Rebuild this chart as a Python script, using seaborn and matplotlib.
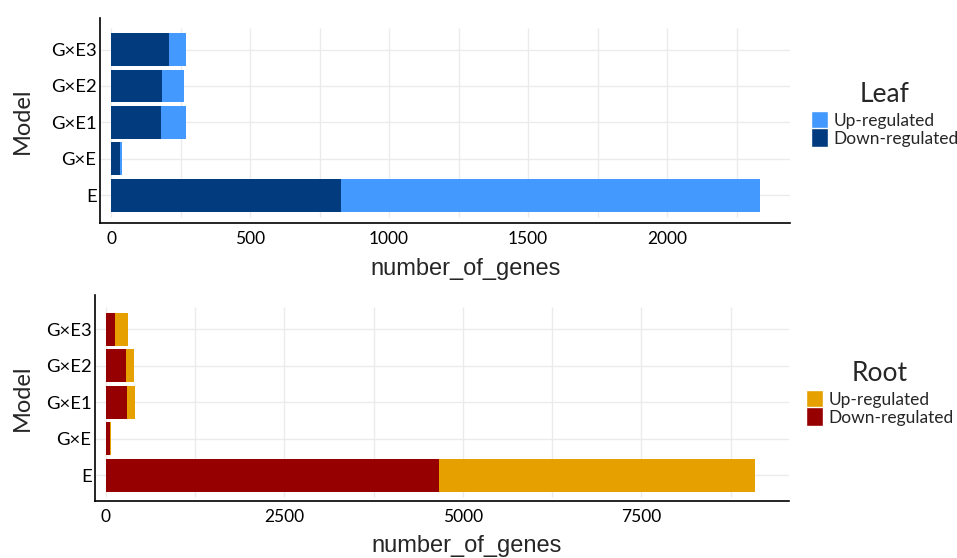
import matplotlib
matplotlib.use('Agg')
import matplotlib.pyplot as plt
from matplotlib.patches import Patch
import numpy as np
import pandas as pd
import seaborn as sns

# ---- Data ----
models = ['G×E3', 'G×E2', 'G×E1', 'G×E', 'E']
leaf_down = [209, 183, 180, 32, 827]
leaf_up = [61, 80, 90, 8, 1508]
root_down = [126, 280, 294, 56, 4670]
root_up = [182, 112, 112, 10, 4420]
legend_labels = ['Up-regulated', 'Down-regulated']

leaf_colors = {'up': '#4499ff', 'down': '#023c7e'}
root_colors = {'up': '#e6a000', 'down': '#960000'}

sns.set_style('white')
plt.rcParams['font.family'] = ['Lato', 'DejaVu Sans']

W, H = 957, 558
fig = plt.figure(figsize=(W / 100, H / 100), dpi=100)


def px_axes(left, right, top, bottom):
    return fig.add_axes([left / W, 1 - bottom / H, (right - left) / W, (bottom - top) / H])


def panel(ax, down, up, colors, xlim, ylim, major, minor_step, title, legend_xy, xlab_x, xlab_y, ylab_x):
    df = pd.DataFrame({'Model': models, 'down': down, 'up': up})
    df['total'] = df['down'] + df['up']
    sns.barplot(data=df, y='Model', x='total', order=models, color=colors['up'],
                width=0.9, saturation=1, linewidth=0, ax=ax, zorder=2)
    sns.barplot(data=df, y='Model', x='down', order=models, color=colors['down'],
                width=0.9, saturation=1, linewidth=0, ax=ax, zorder=3)
    ax.set_xlim(*xlim)
    ax.set_ylim(*ylim)

    # grid lines (ggplot-like, limited to the panel)
    for v in np.arange(0, xlim[1], minor_step):
        ax.vlines(v, -0.6, len(models) - 0.4, color='#ebebeb', lw=1.0, zorder=0)
    for i in range(len(models)):
        ax.hlines(i, xlim[0], xlim[1], color='#ebebeb', lw=1.0, zorder=0)

    ax.set_xticks(major)
    ax.set_xticklabels([str(m) for m in major])
    ax.tick_params(axis='both', length=0, colors='black')
    ax.tick_params(axis='x', pad=6, labelsize=12.5)
    ax.tick_params(axis='y', pad=2.5, labelsize=13.3)
    for s in ['top', 'right']:
        ax.spines[s].set_visible(False)
    for s in ['left', 'bottom']:
        ax.spines[s].set_color('black')
        ax.spines[s].set_linewidth(1.2)

    ax.set_xlabel('number_of_genes', fontsize=17, family='Liberation Sans')
    ax.xaxis.label.set_va('baseline')
    ax.xaxis.set_label_coords(xlab_x, xlab_y)
    ax.set_ylabel('Model', fontsize=17)
    ax.yaxis.label.set_va('center')
    ax.yaxis.set_label_coords(ylab_x, 0.5)

    handles = [Patch(facecolor=colors['up']), Patch(facecolor=colors['down'])]
    leg = fig.legend(handles, legend_labels, title=title, loc='upper left',
                     bbox_to_anchor=(legend_xy[0] / W, 1 - legend_xy[1] / H),
                     frameon=False, fontsize=12.5, title_fontsize=19,
                     handlelength=0.98, handleheight=1.3, handletextpad=0.3,
                     labelspacing=-0.1, borderpad=0, borderaxespad=0)
    leg._legend_box.align = 'center'
    leg._legend_box.sep = 3


# ---- Leaf panel ----
ax1 = px_axes(100, 790, 18, 223)
panel(ax1, leaf_down, leaf_up, leaf_colors,
      xlim=(-40, 2442), ylim=(4.76, -0.865),
      major=[0, 500, 1000, 1500, 2000], minor_step=250,
      title='Leaf', legend_xy=(811, 82),
      xlab_x=(466 - 100) / 690, xlab_y=(223 - 275) / 205, ylab_x=(22 - 100) / 690)

# ---- Root panel ----
ax2 = px_axes(95, 789, 295, 501)
panel(ax2, root_down, root_up, root_colors,
      xlim=(-154, 9566), ylim=(4.704, -0.937),
      major=[0, 2500, 5000, 7500], minor_step=1250,
      title='Root', legend_xy=(806, 361),
      xlab_x=(467 - 95) / 694, xlab_y=(501 - 552) / 206, ylab_x=(22 - 95) / 694)

fig.savefig('out.png', dpi=100)
